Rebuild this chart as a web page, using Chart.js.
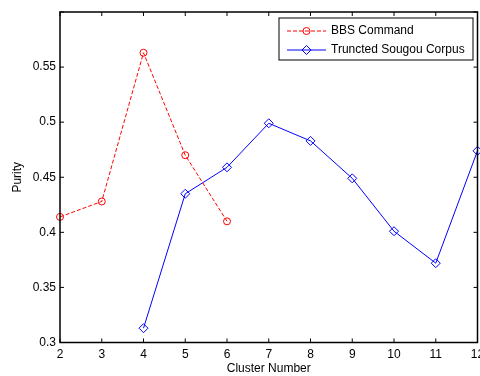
<!DOCTYPE html>
<html><head><meta charset="utf-8">
<script src="https://cdn.jsdelivr.net/npm/chart.js@4/dist/chart.umd.min.js"></script>
<style>html,body{margin:0;padding:0;background:#fff}#wrap{width:480px;height:376px}</style>
</head><body><div id="wrap"><canvas id="c" width="480" height="376"></canvas></div>
<script>
const clusterNumbers = [2, 3, 4, 5, 6, 7, 8, 9, 10, 11, 12];
const bbsX = [2, 3, 4, 5, 6];
const bbsPurity = [0.414, 0.428, 0.563, 0.470, 0.410];
const sougouX = [4, 5, 6, 7, 8, 9, 10, 11, 12];
const sougouPurity = [0.313, 0.435, 0.459, 0.499, 0.483, 0.449, 0.401, 0.372, 0.474];
const yTickLabels = ['0.3', '0.35', '0.4', '0.45', '0.5', '0.55'];
const seriesNames = ['BBS Command', 'Truncted Sougou Corpus'];

const FONT = {family: '"Liberation Sans", Arial, sans-serif', size: 12};

const framePlugin = {
  id: 'frame',
  afterDatasetsDraw(chart) {
    const {ctx, chartArea: a, scales} = chart;
    ctx.save();
    ctx.strokeStyle = '#000';
    ctx.lineWidth = 1;
    ctx.beginPath();
    scales.x.ticks.forEach(t => {
      const px = scales.x.getPixelForValue(t.value);
      ctx.moveTo(px, a.bottom); ctx.lineTo(px, a.bottom - 4);
      ctx.moveTo(px, a.top); ctx.lineTo(px, a.top + 4);
    });
    scales.y.ticks.forEach(t => {
      const py = scales.y.getPixelForValue(t.value);
      ctx.moveTo(a.left, py); ctx.lineTo(a.left + 4, py);
      ctx.moveTo(a.right, py); ctx.lineTo(a.right - 4, py);
    });
    ctx.stroke();
    ctx.lineWidth = 1.5;
    ctx.strokeRect(a.left, a.top, a.right - a.left, a.bottom - a.top);
    ctx.restore();
  },
  afterDraw(chart) {
    const {ctx} = chart;
    const box = {x: 279, y: 18, w: 194, h: 42};
    ctx.save();
    ctx.fillStyle = '#fff';
    ctx.fillRect(box.x, box.y, box.w, box.h);
    ctx.strokeStyle = '#000';
    ctx.lineWidth = 1;
    ctx.strokeRect(box.x, box.y, box.w, box.h);
    chart.data.datasets.forEach((ds, i) => {
      const y = box.y + 13 + i * 19;
      ctx.strokeStyle = ds.borderColor;
      ctx.lineWidth = 1;
      ctx.setLineDash(ds.borderDash || []);
      ctx.beginPath(); ctx.moveTo(287, y); ctx.lineTo(326, y); ctx.stroke();
      ctx.setLineDash([]);
      ctx.beginPath();
      if (ds.pointStyle === 'circle') {
        ctx.arc(306.5, y, 3.5, 0, Math.PI * 2);
      } else {
        ctx.moveTo(306.5, y - 4.5); ctx.lineTo(311, y); ctx.lineTo(306.5, y + 4.5); ctx.lineTo(302, y); ctx.closePath();
      }
      ctx.stroke();
      ctx.fillStyle = '#000';
      ctx.font = '12px "Liberation Sans", Arial, sans-serif';
      ctx.textBaseline = 'middle';
      ctx.textAlign = 'left';
      ctx.fillText(ds.label, 331, y);
    });
    ctx.restore();
  }
};

new Chart(document.getElementById('c'), {
  type: 'line',
  data: {
    datasets: [
      {
        label: seriesNames[0],
        data: bbsX.map((x, i) => ({x, y: bbsPurity[i]})),
        borderColor: '#ff0000',
        backgroundColor: 'transparent',
        borderWidth: 1,
        borderDash: [4, 2],
        pointStyle: 'circle',
        pointRadius: 3.5,
        pointBorderWidth: 1,
        pointBorderColor: '#ff0000',
        pointBackgroundColor: 'transparent',
        tension: 0,
        clip: false
      },
      {
        label: seriesNames[1],
        data: sougouX.map((x, i) => ({x, y: sougouPurity[i]})),
        borderColor: '#0000ff',
        backgroundColor: 'transparent',
        borderWidth: 1,
        pointStyle: 'rectRot',
        pointRadius: 4.5,
        pointBorderWidth: 1,
        pointBorderColor: '#0000ff',
        pointBackgroundColor: 'transparent',
        tension: 0,
        clip: false
      }
    ]
  },
  options: {
    responsive: false,
    animation: false,
    devicePixelRatio: 1,
    layout: {autoPadding: false, padding: {top: 12, right: 2.5, left: 0, bottom: 0}},
    plugins: {legend: {display: false}, tooltip: {enabled: false}},
    scales: {
      x: {
        type: 'linear', min: 2, max: 12,
        afterFit(s) { s.height = 33.5; s.paddingLeft = 0; s.paddingRight = 0; },
        grid: {display: false, drawTicks: false},
        border: {display: false},
        ticks: {
          stepSize: 1, padding: 5, color: '#000', font: FONT, maxRotation: 0, autoSkip: false,
          callback: v => clusterNumbers.includes(v) ? String(v) : ''
        },
        title: {display: true, text: 'Cluster Number', color: '#000', font: FONT, padding: {top: 0, bottom: 0}}
      },
      y: {
        type: 'linear', min: 0.3, max: 0.6,
        afterFit(s) { s.width = 60; s.paddingTop = 0; s.paddingBottom = 0; },
        grid: {display: false, drawTicks: false},
        border: {display: false},
        ticks: {
          stepSize: 0.05, padding: 4, color: '#000', font: FONT, autoSkip: false,
          callback: v => {
            const l = yTickLabels.find(t => Math.abs(parseFloat(t) - v) < 1e-9);
            return l === undefined ? '' : l;
          }
        },
        title: {display: true, text: 'Purity', color: '#000', font: FONT, padding: {top: 10, bottom: 0}}
      }
    }
  },
  plugins: [framePlugin]
});
</script>
</body></html>
